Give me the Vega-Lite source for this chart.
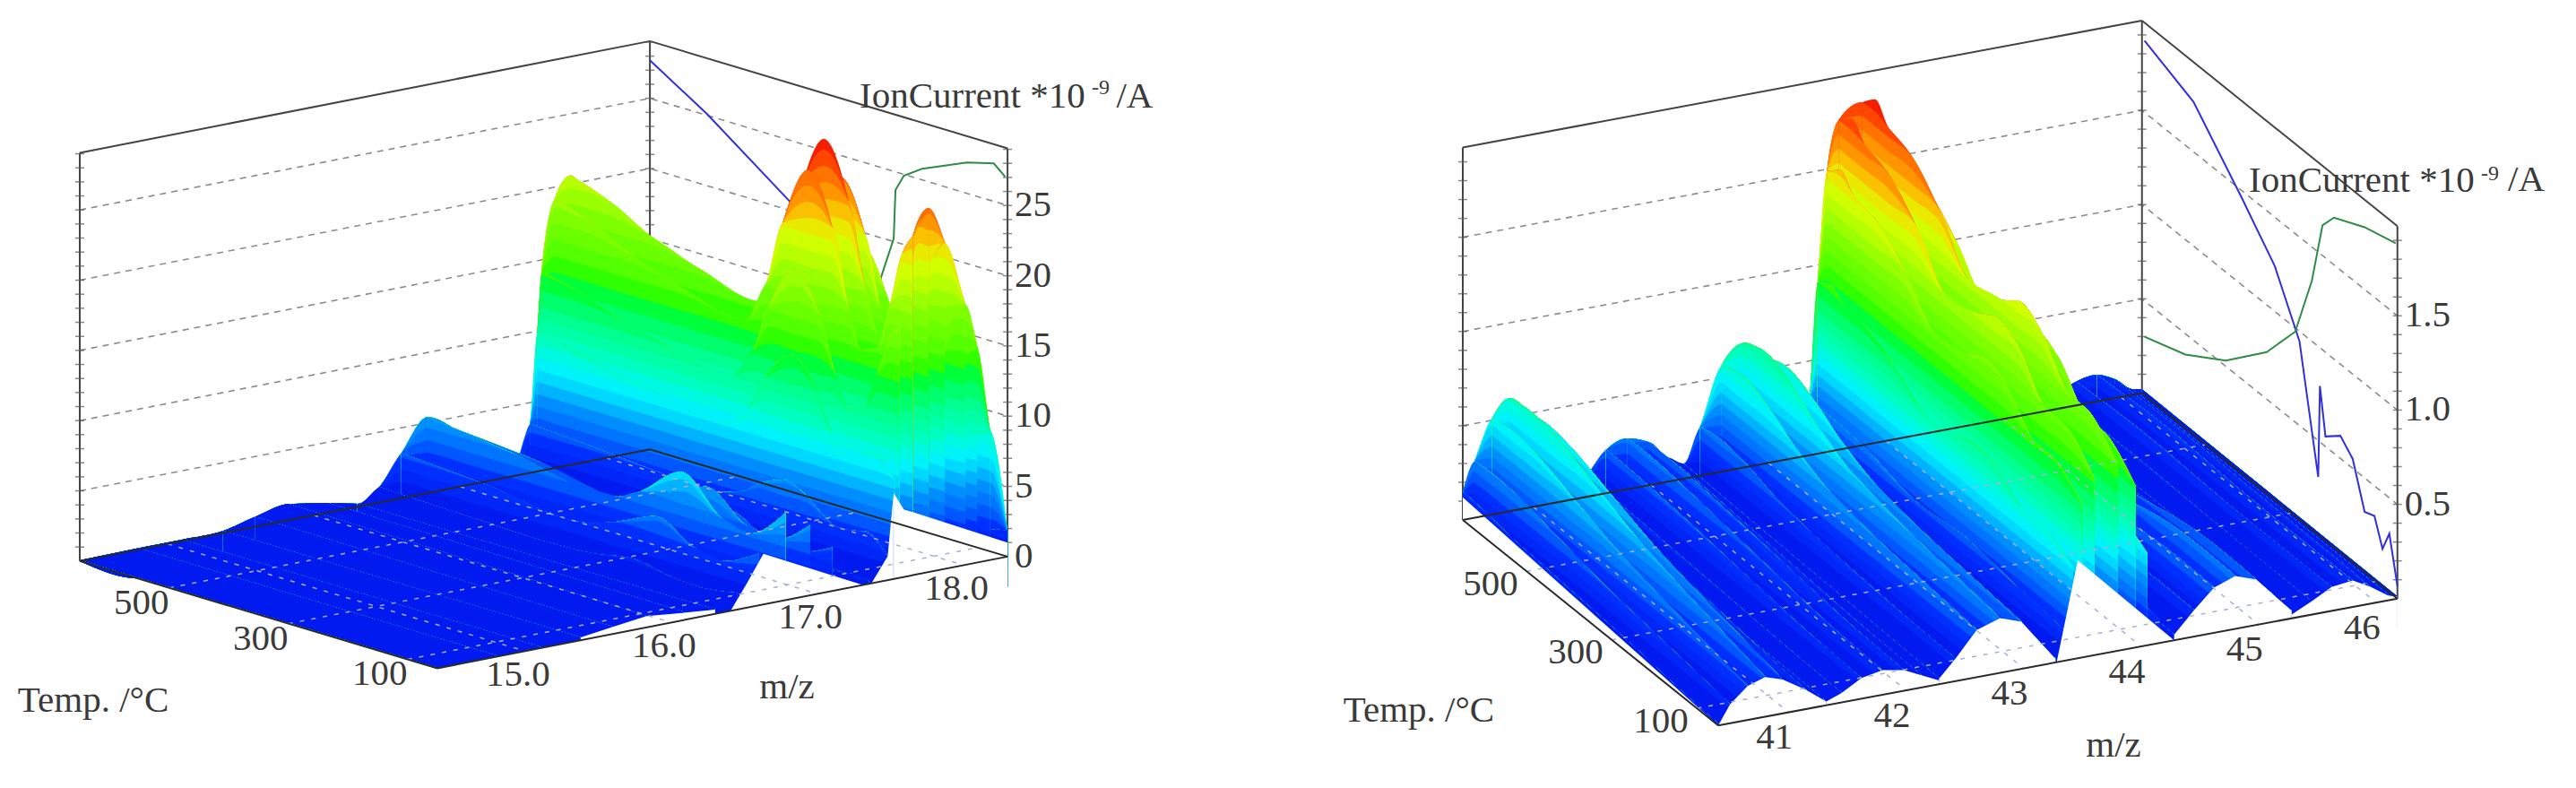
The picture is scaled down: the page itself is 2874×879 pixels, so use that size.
{"$schema":"https://vega.github.io/schema/vega-lite/v6.json","width":2874,"height":879,"padding":0,"autosize":{"type":"fit","contains":"padding"},"background":"white","config":{"view":{"stroke":null},"text":{"font":"Liberation Serif","fill":"#3a3a3a"}},
"data":{"values":[
{"p":0,"m":18.3,"t":50,"z":1.8},{"p":0,"m":18.3,"t":67,"z":1.7},{"p":0,"m":18.3,"t":87,"z":1.4},{"p":0,"m":18.3,"t":108,"z":1.2},{"p":0,"m":18.3,"t":136,"z":1.1},{"p":0,"m":18.3,"t":157,"z":1.3},{"p":0,"m":18.3,"t":184,"z":1.7},{"p":0,"m":18.3,"t":226,"z":2},{"p":0,"m":18.3,"t":268,"z":1.7},{"p":0,"m":18.3,"t":295,"z":1.3},{"p":0,"m":18.3,"t":330,"z":1.1},{"p":0,"m":18.3,"t":434,"z":1.2},{"p":0,"m":18.3,"t":517,"z":1.3},{"p":0,"m":18.3,"t":586,"z":1.4},{"p":0,"m":18.3,"t":650,"z":1.4},
{"p":0,"m":18.18,"t":50,"z":9.3},{"p":0,"m":18.18,"t":67,"z":8.8},{"p":0,"m":18.18,"t":87,"z":7.3},{"p":0,"m":18.18,"t":108,"z":6},{"p":0,"m":18.18,"t":136,"z":5.8},{"p":0,"m":18.18,"t":157,"z":6.8},{"p":0,"m":18.18,"t":184,"z":8.9},{"p":0,"m":18.18,"t":226,"z":10.3},{"p":0,"m":18.18,"t":268,"z":8.6},{"p":0,"m":18.18,"t":295,"z":6.8},{"p":0,"m":18.18,"t":330,"z":5.7},{"p":0,"m":18.18,"t":434,"z":6},{"p":0,"m":18.18,"t":517,"z":6.5},{"p":0,"m":18.18,"t":586,"z":7.1},{"p":0,"m":18.18,"t":650,"z":7.4},
{"p":0,"m":18.09,"t":50,"z":15.5},{"p":0,"m":18.09,"t":67,"z":14.6},{"p":0,"m":18.09,"t":87,"z":12.2},{"p":0,"m":18.09,"t":108,"z":10},{"p":0,"m":18.09,"t":136,"z":9.6},{"p":0,"m":18.09,"t":157,"z":11.4},{"p":0,"m":18.09,"t":184,"z":14.8},{"p":0,"m":18.09,"t":226,"z":17.2},{"p":0,"m":18.09,"t":268,"z":14.4},{"p":0,"m":18.09,"t":295,"z":11.4},{"p":0,"m":18.09,"t":330,"z":9.4},{"p":0,"m":18.09,"t":434,"z":10},{"p":0,"m":18.09,"t":517,"z":10.8},{"p":0,"m":18.09,"t":586,"z":11.8},{"p":0,"m":18.09,"t":650,"z":12.4},
{"p":0,"m":18.01,"t":50,"z":18.6},{"p":0,"m":18.01,"t":67,"z":17.6},{"p":0,"m":18.01,"t":87,"z":14.6},{"p":0,"m":18.01,"t":108,"z":12},{"p":0,"m":18.01,"t":136,"z":11.5},{"p":0,"m":18.01,"t":157,"z":13.7},{"p":0,"m":18.01,"t":184,"z":17.8},{"p":0,"m":18.01,"t":226,"z":20.6},{"p":0,"m":18.01,"t":268,"z":17.3},{"p":0,"m":18.01,"t":295,"z":13.7},{"p":0,"m":18.01,"t":330,"z":11.3},{"p":0,"m":18.01,"t":434,"z":12},{"p":0,"m":18.01,"t":517,"z":13},{"p":0,"m":18.01,"t":586,"z":14.1},{"p":0,"m":18.01,"t":650,"z":14.8},
{"p":0,"m":17.87,"t":50,"z":23.3},{"p":0,"m":17.87,"t":67,"z":22},{"p":0,"m":17.87,"t":87,"z":18.3},{"p":0,"m":17.87,"t":108,"z":15},{"p":0,"m":17.87,"t":136,"z":14.4},{"p":0,"m":17.87,"t":157,"z":17.1},{"p":0,"m":17.87,"t":184,"z":22.2},{"p":0,"m":17.87,"t":226,"z":25.7},{"p":0,"m":17.87,"t":268,"z":21.6},{"p":0,"m":17.87,"t":295,"z":17.1},{"p":0,"m":17.87,"t":330,"z":14.1},{"p":0,"m":17.87,"t":434,"z":15},{"p":0,"m":17.87,"t":517,"z":16.2},{"p":0,"m":17.87,"t":586,"z":17.6},{"p":0,"m":17.87,"t":650,"z":18.5},
{"p":0,"m":17.76,"t":50,"z":25.9},{"p":0,"m":17.76,"t":67,"z":24.4},{"p":0,"m":17.76,"t":87,"z":20.3},{"p":0,"m":17.76,"t":108,"z":16.7},{"p":0,"m":17.76,"t":136,"z":16},{"p":0,"m":17.76,"t":157,"z":19},{"p":0,"m":17.76,"t":184,"z":24.7},{"p":0,"m":17.76,"t":226,"z":28.6},{"p":0,"m":17.76,"t":268,"z":24},{"p":0,"m":17.76,"t":295,"z":19},{"p":0,"m":17.76,"t":330,"z":15.7},{"p":0,"m":17.76,"t":434,"z":16.7},{"p":0,"m":17.76,"t":517,"z":18},{"p":0,"m":17.76,"t":586,"z":19.6},{"p":0,"m":17.76,"t":650,"z":20.6},
{"p":0,"m":17.65,"t":50,"z":24.1},{"p":0,"m":17.65,"t":67,"z":22.7},{"p":0,"m":17.65,"t":87,"z":18.9},{"p":0,"m":17.65,"t":108,"z":15.5},{"p":0,"m":17.65,"t":136,"z":14.9},{"p":0,"m":17.65,"t":157,"z":17.7},{"p":0,"m":17.65,"t":184,"z":23},{"p":0,"m":17.65,"t":226,"z":26.6},{"p":0,"m":17.65,"t":268,"z":22.3},{"p":0,"m":17.65,"t":295,"z":17.7},{"p":0,"m":17.65,"t":330,"z":14.6},{"p":0,"m":17.65,"t":434,"z":15.5},{"p":0,"m":17.65,"t":517,"z":16.7},{"p":0,"m":17.65,"t":586,"z":18.2},{"p":0,"m":17.65,"t":650,"z":19.2},
{"p":0,"m":17.56,"t":50,"z":17.9},{"p":0,"m":17.56,"t":67,"z":16.8},{"p":0,"m":17.56,"t":87,"z":14},{"p":0,"m":17.56,"t":108,"z":11.5},{"p":0,"m":17.56,"t":136,"z":11},{"p":0,"m":17.56,"t":157,"z":13.1},{"p":0,"m":17.56,"t":184,"z":17},{"p":0,"m":17.56,"t":226,"z":19.7},{"p":0,"m":17.56,"t":268,"z":16.6},{"p":0,"m":17.56,"t":295,"z":13.1},{"p":0,"m":17.56,"t":330,"z":10.8},{"p":0,"m":17.56,"t":434,"z":11.5},{"p":0,"m":17.56,"t":517,"z":12.4},{"p":0,"m":17.56,"t":586,"z":13.5},{"p":0,"m":17.56,"t":650,"z":14.2},
{"p":0,"m":17.53,"t":50,"z":7},{"p":0,"m":17.53,"t":67,"z":8},{"p":0,"m":17.53,"t":87,"z":8.5},{"p":0,"m":17.53,"t":108,"z":8},{"p":0,"m":17.53,"t":136,"z":7.7},{"p":0,"m":17.53,"t":157,"z":9.1},{"p":0,"m":17.53,"t":184,"z":11.9},{"p":0,"m":17.53,"t":226,"z":13.7},{"p":0,"m":17.53,"t":268,"z":11.5},{"p":0,"m":17.53,"t":295,"z":9.1},{"p":0,"m":17.53,"t":330,"z":7.5},{"p":0,"m":17.53,"t":434,"z":8},{"p":0,"m":17.53,"t":517,"z":8.6},{"p":0,"m":17.53,"t":586,"z":9.4},{"p":0,"m":17.53,"t":650,"z":9.9},
{"p":0,"m":17.48,"t":50,"z":1.7},{"p":0,"m":17.48,"t":67,"z":2.5},{"p":0,"m":17.48,"t":87,"z":3},{"p":0,"m":17.48,"t":108,"z":2.8},{"p":0,"m":17.48,"t":136,"z":2.7},{"p":0,"m":17.48,"t":157,"z":3.2},{"p":0,"m":17.48,"t":184,"z":4.2},{"p":0,"m":17.48,"t":226,"z":4.9},{"p":0,"m":17.48,"t":268,"z":4.1},{"p":0,"m":17.48,"t":295,"z":3.2},{"p":0,"m":17.48,"t":330,"z":2.7},{"p":0,"m":17.48,"t":434,"z":2.8},{"p":0,"m":17.48,"t":517,"z":3.1},{"p":0,"m":17.48,"t":586,"z":3.3},{"p":0,"m":17.48,"t":650,"z":3.5},
{"p":0,"m":17.35,"t":50,"z":0.2},{"p":0,"m":17.35,"t":300,"z":0.5},{"p":0,"m":17.35,"t":650,"z":0.3},
{"p":0,"m":17.25,"t":50,"z":0.9},{"p":0,"m":17.25,"t":108,"z":0.6},{"p":0,"m":17.25,"t":157,"z":0.7},{"p":0,"m":17.25,"t":226,"z":1},{"p":0,"m":17.25,"t":295,"z":0.7},{"p":0,"m":17.25,"t":330,"z":0.6},{"p":0,"m":17.25,"t":517,"z":0.7},{"p":0,"m":17.25,"t":650,"z":0.8},
{"p":0,"m":17.1,"t":50,"z":3.1},{"p":0,"m":17.1,"t":108,"z":2},{"p":0,"m":17.1,"t":157,"z":2.3},{"p":0,"m":17.1,"t":226,"z":3.5},{"p":0,"m":17.1,"t":295,"z":2.3},{"p":0,"m":17.1,"t":330,"z":1.9},{"p":0,"m":17.1,"t":517,"z":2.4},{"p":0,"m":17.1,"t":650,"z":2.7},
{"p":0,"m":16.95,"t":50,"z":5},{"p":0,"m":16.95,"t":108,"z":3.2},{"p":0,"m":16.95,"t":157,"z":3.6},{"p":0,"m":16.95,"t":226,"z":5.5},{"p":0,"m":16.95,"t":295,"z":3.7},{"p":0,"m":16.95,"t":330,"z":3},{"p":0,"m":16.95,"t":517,"z":3.8},{"p":0,"m":16.95,"t":650,"z":4.3},
{"p":0,"m":16.78,"t":50,"z":6.2},{"p":0,"m":16.78,"t":108,"z":4},{"p":0,"m":16.78,"t":157,"z":4.5},{"p":0,"m":16.78,"t":226,"z":6.9},{"p":0,"m":16.78,"t":295,"z":4.6},{"p":0,"m":16.78,"t":330,"z":3.8},{"p":0,"m":16.78,"t":517,"z":4.7},{"p":0,"m":16.78,"t":650,"z":5.4},
{"p":0,"m":16.6,"t":50,"z":3.7},{"p":0,"m":16.6,"t":108,"z":2.4},{"p":0,"m":16.6,"t":157,"z":2.7},{"p":0,"m":16.6,"t":226,"z":4.1},{"p":0,"m":16.6,"t":295,"z":2.8},{"p":0,"m":16.6,"t":330,"z":2.3},{"p":0,"m":16.6,"t":517,"z":2.8},{"p":0,"m":16.6,"t":650,"z":3.2},
{"p":0,"m":16.45,"t":50,"z":1.2},{"p":0,"m":16.45,"t":108,"z":0.8},{"p":0,"m":16.45,"t":157,"z":0.9},{"p":0,"m":16.45,"t":226,"z":1.4},{"p":0,"m":16.45,"t":295,"z":0.9},{"p":0,"m":16.45,"t":330,"z":0.8},{"p":0,"m":16.45,"t":517,"z":0.9},{"p":0,"m":16.45,"t":650,"z":1.1},
{"p":0,"m":16.3,"t":50,"z":0.3},{"p":0,"m":16.3,"t":650,"z":0.2},
{"p":0,"m":16.1,"t":50,"z":0.5},{"p":0,"m":16.1,"t":650,"z":0.65},
{"p":0,"m":15.83,"t":50,"z":0.8},{"p":0,"m":15.83,"t":350,"z":1},{"p":0,"m":15.83,"t":650,"z":1.15},
{"p":0,"m":15.6,"t":50,"z":0.5},{"p":0,"m":15.6,"t":650,"z":0.7},
{"p":0,"m":15.38,"t":50,"z":0.2},{"p":0,"m":15.38,"t":650,"z":0.15},
{"p":0,"m":15.1,"t":50,"z":0.1},{"p":0,"m":15.1,"t":650,"z":0.1},
{"p":0,"m":14.8,"t":50,"z":0.1},{"p":0,"m":14.8,"t":650,"z":0.1},
{"p":0,"m":14.4,"t":50,"z":0.05},{"p":0,"m":14.4,"t":650,"z":0.05},

{"p":1,"m":46.18,"t":50,"z":0.01},{"p":1,"m":46.18,"t":650,"z":0.02},
{"p":1,"m":46.1,"t":50,"z":0.03},{"p":1,"m":46.1,"t":650,"z":0.03},
{"p":1,"m":45.95,"t":50,"z":0.09},{"p":1,"m":45.95,"t":300,"z":0.1},{"p":1,"m":45.95,"t":500,"z":0.11},{"p":1,"m":45.95,"t":650,"z":0.1},
{"p":1,"m":45.8,"t":50,"z":0.14},{"p":1,"m":45.8,"t":300,"z":0.14},{"p":1,"m":45.8,"t":500,"z":0.16},{"p":1,"m":45.8,"t":650,"z":0.14},
{"p":1,"m":45.62,"t":50,"z":0.127},{"p":1,"m":45.62,"t":300,"z":0.126},{"p":1,"m":45.62,"t":500,"z":0.144},{"p":1,"m":45.62,"t":650,"z":0.126},
{"p":1,"m":45.45,"t":50,"z":0.07},{"p":1,"m":45.45,"t":300,"z":0.077},{"p":1,"m":45.45,"t":500,"z":0.088},{"p":1,"m":45.45,"t":650,"z":0.077},
{"p":1,"m":45.28,"t":50,"z":0.04},{"p":1,"m":45.28,"t":650,"z":0.04},
{"p":1,"m":45.13,"t":50,"z":0.14},{"p":1,"m":45.13,"t":200,"z":0.14},{"p":1,"m":45.13,"t":350,"z":0.1},{"p":1,"m":45.13,"t":500,"z":0.09},{"p":1,"m":45.13,"t":650,"z":0.075},
{"p":1,"m":44.98,"t":50,"z":0.24},{"p":1,"m":44.98,"t":200,"z":0.24},{"p":1,"m":44.98,"t":350,"z":0.17},{"p":1,"m":44.98,"t":500,"z":0.153},{"p":1,"m":44.98,"t":650,"z":0.128},
{"p":1,"m":44.8,"t":50,"z":0.28},{"p":1,"m":44.8,"t":200,"z":0.28},{"p":1,"m":44.8,"t":350,"z":0.2},{"p":1,"m":44.8,"t":500,"z":0.18},{"p":1,"m":44.8,"t":650,"z":0.15},
{"p":1,"m":44.62,"t":50,"z":0.24},{"p":1,"m":44.62,"t":200,"z":0.24},{"p":1,"m":44.62,"t":350,"z":0.17},{"p":1,"m":44.62,"t":500,"z":0.153},{"p":1,"m":44.62,"t":650,"z":0.128},
{"p":1,"m":44.45,"t":50,"z":0.14},{"p":1,"m":44.45,"t":200,"z":0.14},{"p":1,"m":44.45,"t":350,"z":0.1},{"p":1,"m":44.45,"t":500,"z":0.09},{"p":1,"m":44.45,"t":650,"z":0.075},
{"p":1,"m":44.28,"t":50,"z":0.03},{"p":1,"m":44.28,"t":350,"z":0.04},{"p":1,"m":44.28,"t":650,"z":0.04},
{"p":1,"m":44.16,"t":50,"z":0.12},{"p":1,"m":44.16,"t":110,"z":0.14},{"p":1,"m":44.16,"t":170,"z":0.14},{"p":1,"m":44.16,"t":230,"z":0.16},{"p":1,"m":44.16,"t":285,"z":0.17},{"p":1,"m":44.16,"t":320,"z":0.16},{"p":1,"m":44.16,"t":400,"z":0.16},{"p":1,"m":44.16,"t":470,"z":0.19},{"p":1,"m":44.16,"t":530,"z":0.21},{"p":1,"m":44.16,"t":590,"z":0.22},{"p":1,"m":44.16,"t":620,"z":0.23},{"p":1,"m":44.16,"t":650,"z":0.22},
{"p":1,"m":44.05,"t":50,"z":0.49},{"p":1,"m":44.05,"t":110,"z":0.57},{"p":1,"m":44.05,"t":170,"z":0.58},{"p":1,"m":44.05,"t":230,"z":0.69},{"p":1,"m":44.05,"t":285,"z":0.72},{"p":1,"m":44.05,"t":320,"z":0.69},{"p":1,"m":44.05,"t":400,"z":0.67},{"p":1,"m":44.05,"t":470,"z":0.79},{"p":1,"m":44.05,"t":530,"z":0.87},{"p":1,"m":44.05,"t":590,"z":0.9},{"p":1,"m":44.05,"t":620,"z":0.95},{"p":1,"m":44.05,"t":650,"z":0.91},
{"p":1,"m":43.95,"t":50,"z":0.86},{"p":1,"m":43.95,"t":110,"z":1},{"p":1,"m":43.95,"t":170,"z":1.02},{"p":1,"m":43.95,"t":230,"z":1.21},{"p":1,"m":43.95,"t":285,"z":1.26},{"p":1,"m":43.95,"t":320,"z":1.21},{"p":1,"m":43.95,"t":400,"z":1.17},{"p":1,"m":43.95,"t":470,"z":1.39},{"p":1,"m":43.95,"t":530,"z":1.53},{"p":1,"m":43.95,"t":590,"z":1.58},{"p":1,"m":43.95,"t":620,"z":1.66},{"p":1,"m":43.95,"t":650,"z":1.6},
{"p":1,"m":43.8,"t":50,"z":0.98},{"p":1,"m":43.8,"t":110,"z":1.14},{"p":1,"m":43.8,"t":170,"z":1.16},{"p":1,"m":43.8,"t":230,"z":1.37},{"p":1,"m":43.8,"t":285,"z":1.43},{"p":1,"m":43.8,"t":320,"z":1.37},{"p":1,"m":43.8,"t":400,"z":1.33},{"p":1,"m":43.8,"t":470,"z":1.58},{"p":1,"m":43.8,"t":530,"z":1.74},{"p":1,"m":43.8,"t":590,"z":1.8},{"p":1,"m":43.8,"t":620,"z":1.89},{"p":1,"m":43.8,"t":650,"z":1.82},
{"p":1,"m":43.6,"t":50,"z":0.94},{"p":1,"m":43.6,"t":110,"z":1.09},{"p":1,"m":43.6,"t":170,"z":1.11},{"p":1,"m":43.6,"t":230,"z":1.32},{"p":1,"m":43.6,"t":285,"z":1.37},{"p":1,"m":43.6,"t":320,"z":1.32},{"p":1,"m":43.6,"t":400,"z":1.28},{"p":1,"m":43.6,"t":470,"z":1.52},{"p":1,"m":43.6,"t":530,"z":1.67},{"p":1,"m":43.6,"t":590,"z":1.73},{"p":1,"m":43.6,"t":620,"z":1.81},{"p":1,"m":43.6,"t":650,"z":1.75},
{"p":1,"m":43.5,"t":50,"z":0.8},{"p":1,"m":43.5,"t":110,"z":0.93},{"p":1,"m":43.5,"t":170,"z":0.95},{"p":1,"m":43.5,"t":230,"z":1.12},{"p":1,"m":43.5,"t":285,"z":1.17},{"p":1,"m":43.5,"t":320,"z":1.12},{"p":1,"m":43.5,"t":400,"z":1.09},{"p":1,"m":43.5,"t":470,"z":1.3},{"p":1,"m":43.5,"t":530,"z":1.43},{"p":1,"m":43.5,"t":590,"z":1.48},{"p":1,"m":43.5,"t":620,"z":1.55},{"p":1,"m":43.5,"t":650,"z":1.49},
{"p":1,"m":43.42,"t":50,"z":0.49},{"p":1,"m":43.42,"t":110,"z":0.57},{"p":1,"m":43.42,"t":170,"z":0.58},{"p":1,"m":43.42,"t":230,"z":0.69},{"p":1,"m":43.42,"t":285,"z":0.72},{"p":1,"m":43.42,"t":320,"z":0.69},{"p":1,"m":43.42,"t":400,"z":0.67},{"p":1,"m":43.42,"t":470,"z":0.79},{"p":1,"m":43.42,"t":530,"z":0.87},{"p":1,"m":43.42,"t":590,"z":0.9},{"p":1,"m":43.42,"t":620,"z":0.95},{"p":1,"m":43.42,"t":650,"z":0.91},
{"p":1,"m":43.35,"t":50,"z":0.16},{"p":1,"m":43.35,"t":170,"z":0.19},{"p":1,"m":43.35,"t":285,"z":0.23},{"p":1,"m":43.35,"t":400,"z":0.21},{"p":1,"m":43.35,"t":530,"z":0.28},{"p":1,"m":43.35,"t":650,"z":0.29},
{"p":1,"m":43.27,"t":50,"z":0.02},{"p":1,"m":43.27,"t":350,"z":0.06},{"p":1,"m":43.27,"t":650,"z":0.07},
{"p":1,"m":43.13,"t":50,"z":0.13},{"p":1,"m":43.13,"t":176,"z":0.15},{"p":1,"m":43.13,"t":290,"z":0.17},{"p":1,"m":43.13,"t":410,"z":0.2},{"p":1,"m":43.13,"t":480,"z":0.24},{"p":1,"m":43.13,"t":530,"z":0.28},{"p":1,"m":43.13,"t":600,"z":0.32},{"p":1,"m":43.13,"t":650,"z":0.3},
{"p":1,"m":42.98,"t":50,"z":0.25},{"p":1,"m":42.98,"t":176,"z":0.28},{"p":1,"m":42.98,"t":290,"z":0.31},{"p":1,"m":42.98,"t":410,"z":0.37},{"p":1,"m":42.98,"t":480,"z":0.45},{"p":1,"m":42.98,"t":530,"z":0.53},{"p":1,"m":42.98,"t":600,"z":0.6},{"p":1,"m":42.98,"t":650,"z":0.56},
{"p":1,"m":42.8,"t":50,"z":0.29},{"p":1,"m":42.8,"t":176,"z":0.33},{"p":1,"m":42.8,"t":290,"z":0.37},{"p":1,"m":42.8,"t":410,"z":0.44},{"p":1,"m":42.8,"t":480,"z":0.53},{"p":1,"m":42.8,"t":530,"z":0.62},{"p":1,"m":42.8,"t":600,"z":0.7},{"p":1,"m":42.8,"t":650,"z":0.66},
{"p":1,"m":42.6,"t":50,"z":0.25},{"p":1,"m":42.6,"t":176,"z":0.28},{"p":1,"m":42.6,"t":290,"z":0.31},{"p":1,"m":42.6,"t":410,"z":0.37},{"p":1,"m":42.6,"t":480,"z":0.45},{"p":1,"m":42.6,"t":530,"z":0.53},{"p":1,"m":42.6,"t":600,"z":0.6},{"p":1,"m":42.6,"t":650,"z":0.56},
{"p":1,"m":42.42,"t":50,"z":0.12},{"p":1,"m":42.42,"t":176,"z":0.13},{"p":1,"m":42.42,"t":290,"z":0.15},{"p":1,"m":42.42,"t":410,"z":0.18},{"p":1,"m":42.42,"t":480,"z":0.21},{"p":1,"m":42.42,"t":530,"z":0.25},{"p":1,"m":42.42,"t":600,"z":0.28},{"p":1,"m":42.42,"t":650,"z":0.26},
{"p":1,"m":42.28,"t":50,"z":0.03},{"p":1,"m":42.28,"t":290,"z":0.05},{"p":1,"m":42.28,"t":650,"z":0.08},
{"p":1,"m":42.13,"t":50,"z":0.065},{"p":1,"m":42.13,"t":150,"z":0.07},{"p":1,"m":42.13,"t":350,"z":0.1},{"p":1,"m":42.13,"t":500,"z":0.125},{"p":1,"m":42.13,"t":600,"z":0.14},{"p":1,"m":42.13,"t":650,"z":0.135},
{"p":1,"m":41.98,"t":50,"z":0.11},{"p":1,"m":41.98,"t":150,"z":0.12},{"p":1,"m":41.98,"t":350,"z":0.17},{"p":1,"m":41.98,"t":500,"z":0.21},{"p":1,"m":41.98,"t":600,"z":0.23},{"p":1,"m":41.98,"t":650,"z":0.23},
{"p":1,"m":41.8,"t":50,"z":0.13},{"p":1,"m":41.8,"t":150,"z":0.14},{"p":1,"m":41.8,"t":350,"z":0.2},{"p":1,"m":41.8,"t":500,"z":0.25},{"p":1,"m":41.8,"t":600,"z":0.275},{"p":1,"m":41.8,"t":650,"z":0.27},
{"p":1,"m":41.62,"t":50,"z":0.11},{"p":1,"m":41.62,"t":150,"z":0.12},{"p":1,"m":41.62,"t":350,"z":0.17},{"p":1,"m":41.62,"t":500,"z":0.21},{"p":1,"m":41.62,"t":600,"z":0.23},{"p":1,"m":41.62,"t":650,"z":0.23},
{"p":1,"m":41.45,"t":50,"z":0.05},{"p":1,"m":41.45,"t":150,"z":0.056},{"p":1,"m":41.45,"t":350,"z":0.08},{"p":1,"m":41.45,"t":500,"z":0.1},{"p":1,"m":41.45,"t":600,"z":0.11},{"p":1,"m":41.45,"t":650,"z":0.11},
{"p":1,"m":41.32,"t":50,"z":0.02},{"p":1,"m":41.32,"t":350,"z":0.03},{"p":1,"m":41.32,"t":650,"z":0.04},
{"p":1,"m":41.15,"t":50,"z":0.1},{"p":1,"m":41.15,"t":150,"z":0.12},{"p":1,"m":41.15,"t":250,"z":0.15},{"p":1,"m":41.15,"t":350,"z":0.18},{"p":1,"m":41.15,"t":450,"z":0.225},{"p":1,"m":41.15,"t":550,"z":0.27},{"p":1,"m":41.15,"t":600,"z":0.28},{"p":1,"m":41.15,"t":650,"z":0.27},
{"p":1,"m":40.95,"t":50,"z":0.18},{"p":1,"m":40.95,"t":150,"z":0.23},{"p":1,"m":40.95,"t":250,"z":0.28},{"p":1,"m":40.95,"t":350,"z":0.34},{"p":1,"m":40.95,"t":450,"z":0.425},{"p":1,"m":40.95,"t":550,"z":0.51},{"p":1,"m":40.95,"t":600,"z":0.53},{"p":1,"m":40.95,"t":650,"z":0.51},
{"p":1,"m":40.8,"t":50,"z":0.21},{"p":1,"m":40.8,"t":150,"z":0.27},{"p":1,"m":40.8,"t":250,"z":0.33},{"p":1,"m":40.8,"t":350,"z":0.4},{"p":1,"m":40.8,"t":450,"z":0.5},{"p":1,"m":40.8,"t":550,"z":0.6},{"p":1,"m":40.8,"t":600,"z":0.62},{"p":1,"m":40.8,"t":650,"z":0.6},
{"p":1,"m":40.65,"t":50,"z":0.18},{"p":1,"m":40.65,"t":150,"z":0.23},{"p":1,"m":40.65,"t":250,"z":0.28},{"p":1,"m":40.65,"t":350,"z":0.34},{"p":1,"m":40.65,"t":450,"z":0.425},{"p":1,"m":40.65,"t":550,"z":0.51},{"p":1,"m":40.65,"t":600,"z":0.53},{"p":1,"m":40.65,"t":650,"z":0.51},
{"p":1,"m":40.5,"t":50,"z":0.1},{"p":1,"m":40.5,"t":150,"z":0.135},{"p":1,"m":40.5,"t":250,"z":0.165},{"p":1,"m":40.5,"t":350,"z":0.2},{"p":1,"m":40.5,"t":450,"z":0.25},{"p":1,"m":40.5,"t":550,"z":0.3},{"p":1,"m":40.5,"t":600,"z":0.31},{"p":1,"m":40.5,"t":650,"z":0.3},
{"p":1,"m":40.4,"t":50,"z":0.01},{"p":1,"m":40.4,"t":150,"z":0.03},{"p":1,"m":40.4,"t":250,"z":0.06},{"p":1,"m":40.4,"t":350,"z":0.08},{"p":1,"m":40.4,"t":450,"z":0.1},{"p":1,"m":40.4,"t":550,"z":0.12},{"p":1,"m":40.4,"t":600,"z":0.14},{"p":1,"m":40.4,"t":650,"z":0.15},

{"k":"w","id":"a1","p":0,"m":16.405,"t":50,"z":0},{"k":"w","id":"a1","p":0,"m":16.515,"t":50,"z":1.7},{"k":"w","id":"a1","p":0,"m":16.63,"t":50,"z":3.6},{"k":"w","id":"a1","p":0,"m":17.31,"t":50,"z":0},
{"k":"w","id":"a2","p":0,"m":15.38,"t":50,"z":0.2},{"k":"w","id":"a2","p":0,"m":15.6,"t":50,"z":0.5},{"k":"w","id":"a2","p":0,"m":15.83,"t":50,"z":0.8},{"k":"w","id":"a2","p":0,"m":16.1,"t":50,"z":0.5},{"k":"w","id":"a2","p":0,"m":16.3,"t":50,"z":0.3},
{"k":"w","id":"a3","p":0,"m":18.3,"t":50,"z":1},{"k":"w","id":"a3","p":0,"m":18.3,"t":224,"z":1.15},{"k":"w","id":"a3","p":0,"m":18.3,"t":241,"z":2.1},
{"k":"w","id":"a5","p":0,"m":17.37,"t":50,"z":0},{"k":"w","id":"a5","p":0,"m":17.48,"t":50,"z":1.7},{"k":"w","id":"a5","p":0,"m":17.52,"t":50,"z":6},
{"k":"w","id":"a4","p":0,"m":14.4,"t":50,"z":0},{"k":"w","id":"a4","p":0,"m":18.3,"t":50,"z":0},
{"k":"w","id":"b1","p":1,"m":40.4,"t":50,"z":0},{"k":"w","id":"b1","p":1,"m":40.5,"t":50,"z":0.1},{"k":"w","id":"b1","p":1,"m":40.65,"t":50,"z":0.18},{"k":"w","id":"b1","p":1,"m":40.8,"t":50,"z":0.21},{"k":"w","id":"b1","p":1,"m":40.95,"t":50,"z":0.18},{"k":"w","id":"b1","p":1,"m":41.15,"t":50,"z":0.1},{"k":"w","id":"b1","p":1,"m":41.32,"t":50,"z":0.02},
{"k":"w","id":"b2","p":1,"m":41.32,"t":50,"z":0.02},{"k":"w","id":"b2","p":1,"m":41.45,"t":50,"z":0.05},{"k":"w","id":"b2","p":1,"m":41.62,"t":50,"z":0.11},{"k":"w","id":"b2","p":1,"m":41.8,"t":50,"z":0.13},{"k":"w","id":"b2","p":1,"m":41.98,"t":50,"z":0.11},{"k":"w","id":"b2","p":1,"m":42.13,"t":50,"z":0.065},{"k":"w","id":"b2","p":1,"m":42.28,"t":50,"z":0.02},
{"k":"w","id":"b3","p":1,"m":42.28,"t":50,"z":0.03},{"k":"w","id":"b3","p":1,"m":42.42,"t":50,"z":0.12},{"k":"w","id":"b3","p":1,"m":42.6,"t":50,"z":0.25},{"k":"w","id":"b3","p":1,"m":42.8,"t":50,"z":0.29},{"k":"w","id":"b3","p":1,"m":42.98,"t":50,"z":0.25},{"k":"w","id":"b3","p":1,"m":43.13,"t":50,"z":0.13},{"k":"w","id":"b3","p":1,"m":43.27,"t":50,"z":0.02},
{"k":"w","id":"b4","p":1,"m":43.28,"t":50,"z":0},{"k":"w","id":"b4","p":1,"m":43.46,"t":50,"z":0.52},{"k":"w","id":"b4","p":1,"m":44.28,"t":50,"z":0},
{"k":"w","id":"b5","p":1,"m":44.28,"t":50,"z":0.03},{"k":"w","id":"b5","p":1,"m":44.45,"t":50,"z":0.14},{"k":"w","id":"b5","p":1,"m":44.62,"t":50,"z":0.24},{"k":"w","id":"b5","p":1,"m":44.8,"t":50,"z":0.28},{"k":"w","id":"b5","p":1,"m":44.98,"t":50,"z":0.24},{"k":"w","id":"b5","p":1,"m":45.13,"t":50,"z":0.14},{"k":"w","id":"b5","p":1,"m":45.28,"t":50,"z":0.04},
{"k":"w","id":"b6","p":1,"m":45.28,"t":50,"z":0.02},{"k":"w","id":"b6","p":1,"m":45.45,"t":50,"z":0.07},{"k":"w","id":"b6","p":1,"m":45.62,"t":50,"z":0.127},{"k":"w","id":"b6","p":1,"m":45.8,"t":50,"z":0.14},{"k":"w","id":"b6","p":1,"m":45.95,"t":50,"z":0.09},{"k":"w","id":"b6","p":1,"m":46.1,"t":50,"z":0.026},{"k":"w","id":"b6","p":1,"m":46.18,"t":50,"z":0.01},
{"k":"w","id":"b7","p":1,"m":40.4,"t":50,"z":0},{"k":"w","id":"b7","p":1,"m":46.18,"t":50,"z":0},
{"k":"w","id":"b8","p":1,"m":40.4,"t":50,"z":0},{"k":"w","id":"b8","p":1,"m":40.4,"t":650,"z":0.12},

{"k":"c","s":"b","id":"l","p":0,"m":18.3,"t":650,"z":27.7},{"k":"c","s":"b","id":"l","p":0,"m":18.3,"t":554,"z":25.1},{"k":"c","s":"b","id":"l","p":0,"m":18.3,"t":408,"z":20.4},
{"k":"c","s":"g","id":"m","p":0,"m":18.3,"t":272,"z":15.8},{"k":"c","s":"g","id":"m","p":0,"m":18.3,"t":241,"z":20.2},{"k":"c","s":"g","id":"m","p":0,"m":18.3,"t":238,"z":23.7},{"k":"c","s":"g","id":"m","p":0,"m":18.3,"t":224,"z":24.9},{"k":"c","s":"g","id":"m","p":0,"m":18.3,"t":193,"z":25.8},{"k":"c","s":"g","id":"m","p":0,"m":18.3,"t":118,"z":27.2},{"k":"c","s":"g","id":"m","p":0,"m":18.3,"t":73,"z":27.7},{"k":"c","s":"g","id":"m","p":0,"m":18.3,"t":54,"z":27},
{"k":"c","s":"b","id":"n","p":1,"m":46.18,"t":644,"z":1.88},{"k":"c","s":"b","id":"n","p":1,"m":46.18,"t":529,"z":1.765},{"k":"c","s":"b","id":"n","p":1,"m":46.18,"t":414,"z":1.457},{"k":"c","s":"b","id":"n","p":1,"m":46.18,"t":338,"z":1.24},{"k":"c","s":"b","id":"n","p":1,"m":46.18,"t":280,"z":0.947},{"k":"c","s":"b","id":"n","p":1,"m":46.18,"t":236,"z":0.307},{"k":"c","s":"b","id":"n","p":1,"m":46.18,"t":232,"z":0.797},{"k":"c","s":"b","id":"n","p":1,"m":46.18,"t":219,"z":0.553},{"k":"c","s":"b","id":"n","p":1,"m":46.18,"t":184,"z":0.62},{"k":"c","s":"b","id":"n","p":1,"m":46.18,"t":155,"z":0.55},{"k":"c","s":"b","id":"n","p":1,"m":46.18,"t":127,"z":0.32},{"k":"c","s":"b","id":"n","p":1,"m":46.18,"t":104,"z":0.34},{"k":"c","s":"b","id":"n","p":1,"m":46.18,"t":85,"z":0.2},{"k":"c","s":"b","id":"n","p":1,"m":46.18,"t":69,"z":0.31},{"k":"c","s":"b","id":"n","p":1,"m":46.18,"t":50,"z":0.067},
{"k":"c","s":"g","id":"o","p":1,"m":46.18,"t":644,"z":0.31},{"k":"c","s":"g","id":"o","p":1,"m":46.18,"t":548,"z":0.39},{"k":"c","s":"g","id":"o","p":1,"m":46.18,"t":453,"z":0.53},{"k":"c","s":"g","id":"o","p":1,"m":46.18,"t":357,"z":0.75},{"k":"c","s":"g","id":"o","p":1,"m":46.18,"t":290,"z":0.98},{"k":"c","s":"g","id":"o","p":1,"m":46.18,"t":251,"z":1.32},{"k":"c","s":"g","id":"o","p":1,"m":46.18,"t":226,"z":1.66},{"k":"c","s":"g","id":"o","p":1,"m":46.18,"t":199,"z":1.75},{"k":"c","s":"g","id":"o","p":1,"m":46.18,"t":127,"z":1.83},{"k":"c","s":"g","id":"o","p":1,"m":46.18,"t":54,"z":1.877},

{"k":"b","id":"e1","p":0,"m":14.4,"t":650,"z":29.07},{"k":"b","id":"e1","p":0,"m":18.3,"t":650,"z":29.07},
{"k":"b","id":"e2","p":0,"m":18.3,"t":650,"z":29.07},{"k":"b","id":"e2","p":0,"m":18.3,"t":50,"z":29.07},
{"k":"b","id":"e3","p":0,"m":14.4,"t":650,"z":0},{"k":"b","id":"e3","p":0,"m":14.4,"t":650,"z":29.07},
{"k":"b","id":"e4","p":0,"m":18.3,"t":650,"z":0},{"k":"b","id":"e4","p":0,"m":18.3,"t":650,"z":29.07},
{"k":"b","id":"e5","p":0,"m":18.3,"t":50,"z":0},{"k":"b","id":"e5","p":0,"m":18.3,"t":50,"z":29.07},
{"k":"b","id":"f1","p":1,"m":40.4,"t":650,"z":1.976},{"k":"b","id":"f1","p":1,"m":46.18,"t":650,"z":1.976},
{"k":"b","id":"f2","p":1,"m":46.18,"t":650,"z":1.976},{"k":"b","id":"f2","p":1,"m":46.18,"t":50,"z":1.976},
{"k":"b","id":"f3","p":1,"m":40.4,"t":650,"z":0},{"k":"b","id":"f3","p":1,"m":40.4,"t":650,"z":1.976},
{"k":"b","id":"f4","p":1,"m":46.18,"t":650,"z":0},{"k":"b","id":"f4","p":1,"m":46.18,"t":650,"z":1.976},
{"k":"b","id":"f5","p":1,"m":46.18,"t":50,"z":0},{"k":"b","id":"f5","p":1,"m":46.18,"t":50,"z":1.976},

{"k":"e","id":"h1","p":0,"m":14.4,"t":650,"z":0},{"k":"e","id":"h1","p":0,"m":18.3,"t":650,"z":0},
{"k":"e","id":"h2","p":0,"m":18.3,"t":650,"z":0},{"k":"e","id":"h2","p":0,"m":18.3,"t":50,"z":0},
{"k":"e","id":"h3","p":0,"m":14.4,"t":650,"z":0},{"k":"e","id":"h3","p":0,"m":14.4,"t":50,"z":0},
{"k":"e","id":"h4","p":0,"m":14.4,"t":50,"z":0},{"k":"e","id":"h4","p":0,"m":18.3,"t":50,"z":0},
{"k":"e","id":"i1","p":1,"m":40.4,"t":650,"z":0},{"k":"e","id":"i1","p":1,"m":46.18,"t":650,"z":0},
{"k":"e","id":"i2","p":1,"m":46.18,"t":650,"z":0},{"k":"e","id":"i2","p":1,"m":46.18,"t":50,"z":0},
{"k":"e","id":"i3","p":1,"m":40.4,"t":650,"z":0},{"k":"e","id":"i3","p":1,"m":40.4,"t":50,"z":0},
{"k":"e","id":"i4","p":1,"m":40.4,"t":50,"z":0},{"k":"e","id":"i4","p":1,"m":46.18,"t":50,"z":0},

{"k":"g","id":"g5","p":0,"m":14.4,"t":650,"z":5},{"k":"g","id":"g5","p":0,"m":18.3,"t":650,"z":5},{"k":"g","id":"g5","p":0,"m":18.3,"t":50,"z":5},
{"k":"g","id":"g10","p":0,"m":14.4,"t":650,"z":10},{"k":"g","id":"g10","p":0,"m":18.3,"t":650,"z":10},{"k":"g","id":"g10","p":0,"m":18.3,"t":50,"z":10},
{"k":"g","id":"g15","p":0,"m":14.4,"t":650,"z":15},{"k":"g","id":"g15","p":0,"m":18.3,"t":650,"z":15},{"k":"g","id":"g15","p":0,"m":18.3,"t":50,"z":15},
{"k":"g","id":"g20","p":0,"m":14.4,"t":650,"z":20},{"k":"g","id":"g20","p":0,"m":18.3,"t":650,"z":20},{"k":"g","id":"g20","p":0,"m":18.3,"t":50,"z":20},
{"k":"g","id":"g25","p":0,"m":14.4,"t":650,"z":25},{"k":"g","id":"g25","p":0,"m":18.3,"t":650,"z":25},{"k":"g","id":"g25","p":0,"m":18.3,"t":50,"z":25},
{"k":"g","id":"r1","p":1,"m":40.4,"t":650,"z":0.5},{"k":"g","id":"r1","p":1,"m":46.18,"t":650,"z":0.5},{"k":"g","id":"r1","p":1,"m":46.18,"t":50,"z":0.5},
{"k":"g","id":"r2","p":1,"m":40.4,"t":650,"z":1},{"k":"g","id":"r2","p":1,"m":46.18,"t":650,"z":1},{"k":"g","id":"r2","p":1,"m":46.18,"t":50,"z":1},
{"k":"g","id":"r3","p":1,"m":40.4,"t":650,"z":1.5},{"k":"g","id":"r3","p":1,"m":46.18,"t":650,"z":1.5},{"k":"g","id":"r3","p":1,"m":46.18,"t":50,"z":1.5},

{"k":"d","id":"d15","p":0,"m":15,"t":50,"z":0},{"k":"d","id":"d15","p":0,"m":15,"t":650,"z":0},{"k":"d","id":"d16","p":0,"m":16,"t":50,"z":0},{"k":"d","id":"d16","p":0,"m":16,"t":650,"z":0},{"k":"d","id":"d17","p":0,"m":17,"t":50,"z":0},{"k":"d","id":"d17","p":0,"m":17,"t":650,"z":0},{"k":"d","id":"d18","p":0,"m":18,"t":50,"z":0},{"k":"d","id":"d18","p":0,"m":18,"t":650,"z":0},
{"k":"d","id":"d1","p":0,"m":14.4,"t":100,"z":0},{"k":"d","id":"d1","p":0,"m":18.3,"t":100,"z":0},{"k":"d","id":"d3","p":0,"m":14.4,"t":300,"z":0},{"k":"d","id":"d3","p":0,"m":18.3,"t":300,"z":0},{"k":"d","id":"d5","p":0,"m":14.4,"t":500,"z":0},{"k":"d","id":"d5","p":0,"m":18.3,"t":500,"z":0},
{"k":"d","id":"j41","p":1,"m":41,"t":50,"z":0},{"k":"d","id":"j41","p":1,"m":41,"t":650,"z":0},{"k":"d","id":"j42","p":1,"m":42,"t":50,"z":0},{"k":"d","id":"j42","p":1,"m":42,"t":650,"z":0},{"k":"d","id":"j43","p":1,"m":43,"t":50,"z":0},{"k":"d","id":"j43","p":1,"m":43,"t":650,"z":0},{"k":"d","id":"j44","p":1,"m":44,"t":50,"z":0},{"k":"d","id":"j44","p":1,"m":44,"t":650,"z":0},{"k":"d","id":"j45","p":1,"m":45,"t":50,"z":0},{"k":"d","id":"j45","p":1,"m":45,"t":650,"z":0},{"k":"d","id":"j46","p":1,"m":46,"t":50,"z":0},{"k":"d","id":"j46","p":1,"m":46,"t":650,"z":0},
{"k":"d","id":"j1","p":1,"m":40.4,"t":100,"z":0},{"k":"d","id":"j1","p":1,"m":46.18,"t":100,"z":0},{"k":"d","id":"j3","p":1,"m":40.4,"t":300,"z":0},{"k":"d","id":"j3","p":1,"m":46.18,"t":300,"z":0},{"k":"d","id":"j5","p":1,"m":40.4,"t":500,"z":0},{"k":"d","id":"j5","p":1,"m":46.18,"t":500,"z":0},

{"k":"n","p":0,"m":14.4,"t":650,"z":0,"za":[1,2,3,4,5,6,7,8,9,10,11,12,13,14,15,16,17,18,19,20,21,22,23,24,25,26,27,28,29]},
{"k":"n","p":0,"m":18.3,"t":650,"z":0,"za":[1,2,3,4,5,6,7,8,9,10,11,12,13,14,15,16,17,18,19,20,21,22,23,24,25,26,27,28,29]},
{"k":"n","p":0,"m":18.3,"t":50,"z":0,"za":[1,2,3,4,5,6,7,8,9,10,11,12,13,14,15,16,17,18,19,20,21,22,23,24,25,26,27,28,29]},
{"k":"n","p":1,"m":40.4,"t":650,"z":0,"za":[0.1,0.2,0.3,0.4,0.5,0.6,0.7,0.8,0.9,1,1.1,1.2,1.3,1.4,1.5,1.6,1.7,1.8,1.9]},
{"k":"n","p":1,"m":46.18,"t":650,"z":0,"za":[0.1,0.2,0.3,0.4,0.5,0.6,0.7,0.8,0.9,1,1.1,1.2,1.3,1.4,1.5,1.6,1.7,1.8,1.9]},
{"k":"n","p":1,"m":46.18,"t":50,"z":0,"za":[0.1,0.2,0.3,0.4,0.5,0.6,0.7,0.8,0.9,1,1.1,1.2,1.3,1.4,1.5,1.6,1.7,1.8,1.9]},

{"k":"zl","p":0,"m":18.3,"t":50,"z":0,"label":"0"},{"k":"zl","p":0,"m":18.3,"t":50,"z":5,"label":"5"},{"k":"zl","p":0,"m":18.3,"t":50,"z":10,"label":"10"},{"k":"zl","p":0,"m":18.3,"t":50,"z":15,"label":"15"},{"k":"zl","p":0,"m":18.3,"t":50,"z":20,"label":"20"},{"k":"zl","p":0,"m":18.3,"t":50,"z":25,"label":"25"},
{"k":"zl","p":1,"m":46.18,"t":50,"z":0.5,"label":"0.5"},{"k":"zl","p":1,"m":46.18,"t":50,"z":1,"label":"1.0"},{"k":"zl","p":1,"m":46.18,"t":50,"z":1.5,"label":"1.5"},
{"k":"ml","p":0,"m":15,"t":50,"z":0,"label":"15.0"},{"k":"ml","p":0,"m":16,"t":50,"z":0,"label":"16.0"},{"k":"ml","p":0,"m":17,"t":50,"z":0,"label":"17.0"},{"k":"ml","p":0,"m":18,"t":50,"z":0,"label":"18.0"},
{"k":"ml","p":1,"m":40.94,"t":50,"z":0,"label":"41"},{"k":"ml","p":1,"m":41.94,"t":50,"z":0,"label":"42"},{"k":"ml","p":1,"m":42.94,"t":50,"z":0,"label":"43"},{"k":"ml","p":1,"m":43.94,"t":50,"z":0,"label":"44"},{"k":"ml","p":1,"m":44.94,"t":50,"z":0,"label":"45"},{"k":"ml","p":1,"m":45.94,"t":50,"z":0,"label":"46"},
{"k":"tl","p":0,"m":14.4,"t":100,"z":0,"label":"100"},{"k":"tl","p":0,"m":14.4,"t":300,"z":0,"label":"300"},{"k":"tl","p":0,"m":14.4,"t":500,"z":0,"label":"500"},
{"k":"tl","p":1,"m":40.33,"t":100,"z":0.02,"label":"100"},{"k":"tl","p":1,"m":40.33,"t":300,"z":0.02,"label":"300"},{"k":"tl","p":1,"m":40.33,"t":500,"z":0.02,"label":"500"},
{"k":"xc","p":0,"m":12.046,"t":50,"z":2.45,"label":"Temp. /°C"},{"k":"xc","p":0,"m":16.791,"t":50,"z":-6.27,"label":"m/z"},
{"k":"xc","p":1,"m":37.852,"t":50,"z":0.3757,"label":"Temp. /°C"},{"k":"xc","p":1,"m":43.764,"t":50,"z":-0.5009,"label":"m/z"},
{"k":"xl","p":0,"m":17.288,"t":50,"z":34.82,"label":"IonCurrent *10"},{"k":"xl","p":0,"m":19.044,"t":50,"z":31.25,"label":"/A"},
{"k":"xs","p":0,"m":18.876,"t":50,"z":32.22,"label":"-9"},
{"k":"xl","p":1,"m":44.916,"t":50,"z":2.364,"label":"IonCurrent *10"},{"k":"xl","p":1,"m":47.12,"t":50,"z":2.108,"label":"/A"},
{"k":"xs","p":1,"m":46.891,"t":50,"z":2.168,"label":"-9"}
]},
"transform":[
{"calculate":"datum.p==0?15.72:211","as":"zk"},
{"calculate":"datum.p==0?29:1.9","as":"zm"},
{"calculate":"datum.p==0?14.4:40.4","as":"mb"},
{"calculate":"datum.p==0?488+163.1*(datum.m-14.4)-0.665*(datum.t-50):1917+131.1*(datum.m-40.4)-0.475*(datum.t-50)","as":"x0"},
{"calculate":"datum.p==0?748-32.05*(datum.m-14.4)-0.2*(datum.t-50):812-24.57*(datum.m-40.4)-0.3833*(datum.t-50)","as":"yf"},
{"calculate":"datum.yf-datum.zk*datum.z","as":"yc"},
{"calculate":"datum.yf+70","as":"yb"}
],
"encoding":{"x":{"field":"x0","type":"quantitative","scale":{"domain":[0,2874],"nice":false,"zero":false},"axis":null},"y":{"field":"yc","type":"quantitative","scale":{"domain":[879,0],"nice":false,"zero":false},"axis":null}},
"layer":[
{"transform":[{"filter":"datum.k=='g'"}],"mark":{"type":"line","stroke":"#8c8c8c","strokeWidth":1.6,"strokeDash":[7,6]},"encoding":{"detail":{"field":"id"}}},
{"transform":[{"filter":"datum.k=='b'"}],"mark":{"type":"line","stroke":"#444444","strokeWidth":2},"encoding":{"detail":{"field":"id"}}},
{"transform":[{"filter":"datum.k=='n'"},{"flatten":["za"]},{"calculate":"datum.yf-datum.zk*datum.za","as":"yc"}],"mark":{"type":"tick","orient":"horizontal","size":10,"thickness":1.5,"color":"#555555"}},
{"transform":[{"filter":"datum.k=='c'"}],"mark":{"type":"line","strokeWidth":2},"encoding":{"detail":{"field":"id"},"color":{"field":"s","type":"nominal","legend":null,"scale":{"domain":["b","g"],"range":["#3030e0","#2e8b45"]}}}},
{"transform":[{"filter":"!datum.k&&(datum.t==650||datum.t==50)"},{"calculate":"[1.05,0.96,0.92,0.88,0.84,0.8,0.76,0.72,0.68,0.64,0.6,0.56,0.52,0.48,0.44,0.4,0.37,0.34,0.31,0.28,0.25,0.22,0.19,0.16,0.13,0.1,0.07,0.04]","as":"lv"},{"flatten":["lv"]},{"calculate":"datum.yf-datum.zk*min(datum.z,datum.lv*datum.zm)","as":"yc"},{"calculate":"datum.yf+(datum.t==650?min(34,(datum.m-datum.mb)*(datum.p==0?81:130)):0)","as":"yb"},{"calculate":"datum.p+'_'+datum.t+'_'+datum.lv","as":"grp"}],"mark":{"type":"area","interpolate":"monotone"},"encoding":{"y2":{"field":"yb"},"detail":{"field":"grp"},"color":{"field":"lv","type":"quantitative","legend":null,"scale":{"domain":[0,0.1,0.2,0.27,0.35,0.5,0.65,0.78,0.88,0.96,1.05],"range":["#0000e6","#0030ff","#0096ff","#00f0ff","#00ffb4","#00ff00","#82ff00","#dcff00","#ff9600","#ff4600","#f51e00"],"clamp":true}}}},
{"transform":[{"filter":"!datum.k"},{"calculate":"[1.05,0.96,0.92,0.88,0.84,0.8,0.76,0.72,0.68,0.64,0.6,0.56,0.52,0.48,0.44,0.4,0.37,0.34,0.31,0.28,0.25,0.22,0.19,0.16,0.13,0.1,0.07,0.04]","as":"lv"},{"flatten":["lv"]},{"calculate":"datum.yf-datum.zk*min(datum.z,datum.lv*datum.zm)","as":"yc"},{"calculate":"datum.yf+min(34,(datum.m-datum.mb)*(datum.p==0?81:130))","as":"yb"},{"calculate":"datum.p+'_'+datum.m+'_'+datum.lv","as":"grp"}],"mark":{"type":"area","interpolate":"monotone"},"encoding":{"y2":{"field":"yb"},"detail":{"field":"grp"},"color":{"field":"lv","type":"quantitative","legend":null,"scale":{"domain":[0,0.1,0.2,0.27,0.35,0.5,0.65,0.78,0.88,0.96,1.05],"range":["#0000e6","#0030ff","#0096ff","#00f0ff","#00ffb4","#00ff00","#82ff00","#dcff00","#ff9600","#ff4600","#f51e00"],"clamp":true}}}},
{"transform":[{"filter":"datum.k=='w'"}],"mark":{"type":"area","color":"white"},"encoding":{"y2":{"field":"yb"},"detail":{"field":"id"}}},
{"transform":[{"filter":"datum.k=='d'"}],"mark":{"type":"line","stroke":"#a8b0d4","strokeWidth":1.5,"strokeDash":[5,8]},"encoding":{"detail":{"field":"id"}}},
{"transform":[{"filter":"datum.k=='e'"}],"mark":{"type":"line","stroke":"#2a2a2a","strokeWidth":2},"encoding":{"detail":{"field":"id"}}},
{"transform":[{"filter":"datum.k=='zl'"}],"mark":{"type":"text","fontSize":41,"align":"left","baseline":"middle","dx":8},"encoding":{"text":{"field":"label"}}},
{"transform":[{"filter":"datum.k=='ml'"}],"mark":{"type":"text","fontSize":41,"align":"center","baseline":"middle","dx":-8,"dy":27},"encoding":{"text":{"field":"label"}}},
{"transform":[{"filter":"datum.k=='tl'"}],"mark":{"type":"text","fontSize":41,"align":"center","baseline":"middle","dx":-31,"dy":17},"encoding":{"text":{"field":"label"}}},
{"transform":[{"filter":"datum.k=='xc'"}],"mark":{"type":"text","fontSize":41,"align":"center","baseline":"middle"},"encoding":{"text":{"field":"label"}}},
{"transform":[{"filter":"datum.k=='xl'"}],"mark":{"type":"text","fontSize":41,"align":"left","baseline":"middle"},"encoding":{"text":{"field":"label"}}},
{"transform":[{"filter":"datum.k=='xs'"}],"mark":{"type":"text","fontSize":24,"align":"left","baseline":"middle"},"encoding":{"text":{"field":"label"}}}
]}
